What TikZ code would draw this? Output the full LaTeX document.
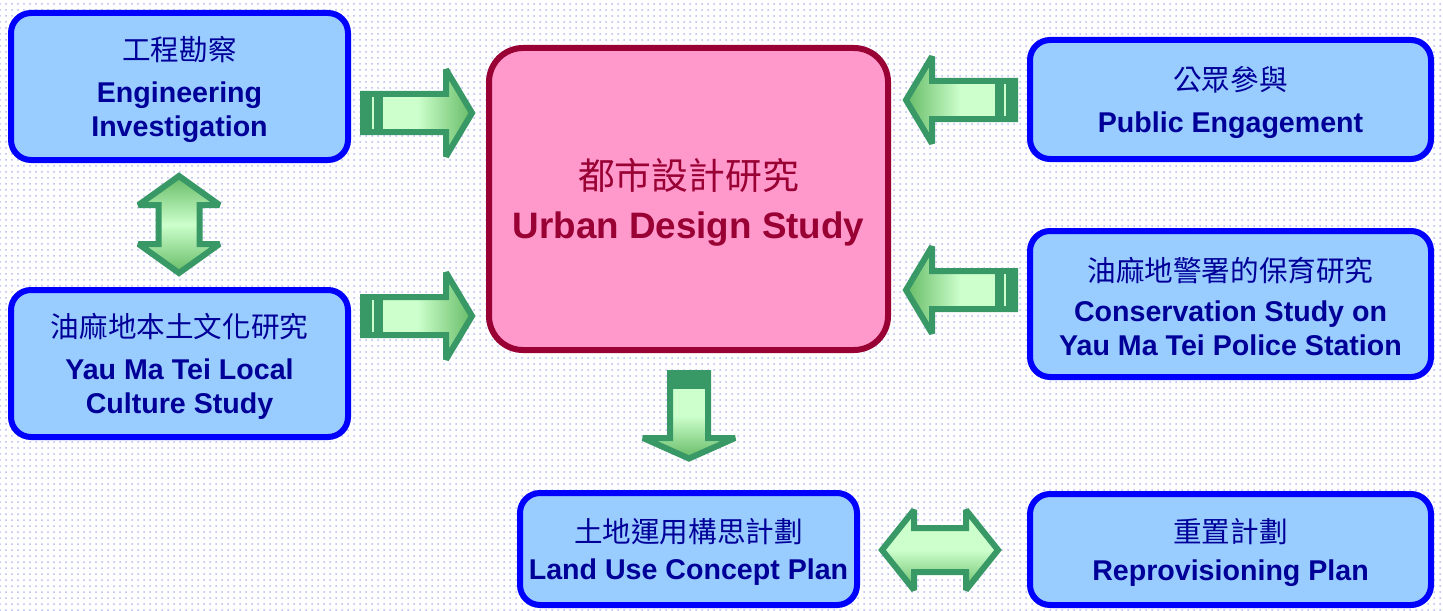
\documentclass[tikz,border=0pt]{standalone}
\usepackage{fontspec}
\setmainfont{Liberation Sans}
\newfontfamily\cjk{Noto Sans CJK TC}
\usetikzlibrary{patterns}
\usepackage{xcolor}
\definecolor{boxfill}{HTML}{99CCFF}
\definecolor{boxline}{HTML}{0000FF}
\definecolor{boxtext}{HTML}{000099}
\definecolor{mainfill}{HTML}{FF99CC}
\definecolor{mainline}{HTML}{990033}
\definecolor{arrowdark}{HTML}{389966}
\definecolor{arrowlight}{HTML}{CCFFCC}
\definecolor{arrowmid}{HTML}{66BB66}
\definecolor{dotcolor}{HTML}{B8B8F5}
\newcommand\zh[1]{{\cjk\mdseries\rule{0pt}{1.05em}#1}}

\tikzset{
  infobox/.style={draw=boxline, fill=boxfill, line width=3pt, rounded corners=10pt,
    inner sep=0pt, align=center, text=boxtext, font=\fontsize{14.3}{17.2}\selectfont\bfseries},
  mainbox/.style={infobox, draw=mainline, fill=mainfill, rounded corners=17pt,
    text=mainline, font=\fontsize{18.4}{22}\selectfont\bfseries},
  arrowline/.style={draw=arrowdark, line width=3pt, line join=miter, miter limit=2},
  arrowshade/.style={left color=arrowlight, right color=arrowmid, middle color=arrowlight},
  pics/tailarrow/.style={code={
    \shadedraw[arrowline, arrowshade] (0,0) -- (-26,-43.5) -- (-26,-19) -- (-109,-19)
      -- (-109,19) -- (-26,19) -- (-26,43.5) -- cycle;
    \fill[arrowdark] (-109,-19) rectangle (-89,19);
    \draw[arrowlight, line width=0.6pt] (-99,-16) -- (-99,16);
  }},
  pics/downarrow/.style={code={
    \shadedraw[arrowline, arrowshade] (0,0) -- (-20.5,-46) -- (-20.5,-19) -- (-85.5,-19)
      -- (-85.5,19) -- (-20.5,19) -- (-20.5,46) -- cycle;
    \fill[arrowdark] (-85.5,-19) rectangle (-69.5,19);
  }},
  pics/twowayarrow/.style n args={4}{code={
    \shadedraw[arrowline, arrowshade]
      (#1,0) -- (#2,-#3) -- (#2,-#4) -- (-#2,-#4) -- (-#2,-#3) -- (-#1,0)
      -- (-#2,#3) -- (-#2,#4) -- (#2,#4) -- (#2,#3) -- cycle;
  }},
}

\begin{document}
\begin{tikzpicture}[x=0.5pt, y=-0.5pt]
\useasboundingbox (0,0) rectangle (1443,610);
% dotted backdrop
\fill[white] (0,0) rectangle (1443,610);
\fill[pattern=dots, pattern color=dotcolor] (0,0) rectangle (1443,610);

% left column
\node[infobox, minimum width=168.5pt, minimum height=73.5pt] (eng) at (179.5,86.5)
  {\zh{工程勘察}\\[4pt]Engineering\\Investigation};
\node[infobox, minimum width=168.5pt, minimum height=73.5pt] (culture) at (179.5,363.5)
  {\zh{油麻地本土文化研究}\\[4pt]Yau Ma Tei Local\\Culture Study};

% centre
\node[mainbox, minimum width=199.5pt, minimum height=151pt] (uds) at (688.5,199)
  {\zh{都市設計研究}\\[2.5pt]Urban Design Study};
\node[infobox, minimum width=168.5pt, minimum height=56pt] (landuse) at (688.5,549)
  {\zh{土地運用構思計劃}\\[1.5pt]Land Use Concept Plan};

% right column
\node[infobox, minimum width=200.5pt, minimum height=59.5pt] (public) at (1230.5,99.5)
  {\zh{公眾參與}\\[4pt]Public Engagement};
\node[infobox, minimum width=200.5pt, minimum height=73pt] (police) at (1230.5,304)
  {\zh{油麻地警署的保育研究}\\[2.5pt]Conservation Study on\\Yau Ma Tei Police Station};
\node[infobox, minimum width=200.5pt, minimum height=55.5pt] (reprov) at (1230.5,549.5)
  {\zh{重置計劃}\\[1.5pt]Reprovisioning Plan};

% block arrows
\pic at (472,113) {tailarrow};
\pic at (472,316) {tailarrow};
\pic[rotate=180, arrowshade/.style={left color=arrowmid, right color=arrowlight,
  middle color=arrowlight}] at (906,100) {tailarrow};
\pic[rotate=180, arrowshade/.style={left color=arrowmid, right color=arrowlight,
  middle color=arrowlight}] at (906,290) {tailarrow};
\pic[rotate=-90, arrowshade/.style={top color=arrowlight, bottom color=arrowmid,
  middle color=arrowlight}] at (689,458.5) {downarrow};
\pic[rotate=90, arrowshade/.style={top color=arrowmid, bottom color=arrowmid,
  middle color=arrowlight}] at (179,224.5) {twowayarrow={48.5}{19.5}{40.5}{20.5}};
\pic[arrowshade/.style={top color=arrowlight, bottom color=arrowmid,
  middle color=arrowlight}] at (940,550) {twowayarrow={58}{26}{40}{22}};
\end{tikzpicture}
\end{document}
